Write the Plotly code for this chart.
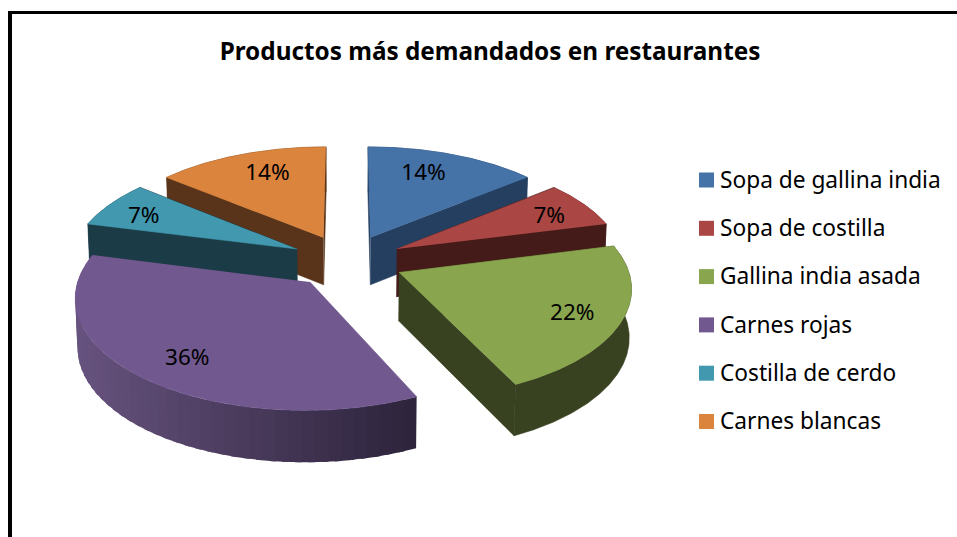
import numpy as np
import plotly.graph_objects as go

categories = ["Sopa de gallina india", "Sopa de costilla", "Gallina india asada",
              "Carnes rojas", "Costilla de cerdo", "Carnes blancas"]
values = [14, 7, 22, 36, 7, 14]
top_colors = ["#4572A7", "#AA4643", "#89A54E", "#71588F", "#4198AF", "#DB843D"]
side_colors = ["#253F60", "#451B19", "#384120", "#3E3150", "#1B3B46", "#59341A"]
title_text = "Productos más demandados en restaurantes"

# projection of the tilted pie
CX, CY = 347, 261
A, B, KX, KY = 227, 107, 0.12, 0.1224
EXPLODE, DEPTH, LABEL_R = 0.25, 48, 1.03
FONT = "Noto Sans"
LABEL_NUDGE = [(-13, 3), (5, 4), (2, 4), (5, 4), (-6, 4), (10, 3)]


def project(u, v, bottom=False):
    x = CX + A * u / (1 + KX * v)
    d = 1 + KY * v
    y = CY - B * v / d
    if bottom:
        y = y + DEPTH / np.sqrt(d)
        x = CX + (x - CX) * 0.992
    return x, y


def poly(fig, x, y, color, edge=0.6):
    fig.add_trace(go.Scatter(x=list(x), y=list(y), mode="lines", fill="toself",
                             fillcolor=color, line=dict(color=color, width=edge),
                             hoverinfo="skip", showlegend=False))


def mix(c1, c2, t):
    a = [int(c1[i:i + 2], 16) for i in (1, 3, 5)]
    b = [int(c2[i:i + 2], 16) for i in (1, 3, 5)]
    return "#%02x%02x%02x" % tuple(round(p + (q - p) * t) for p, q in zip(a, b))


fig = go.Figure()
total = sum(values)
edges = np.cumsum([0] + values) / total * 2 * np.pi
order = [0, 1, 2, 5, 4, 3]
mids = {}

for i in order:
    t0, t1 = edges[i], edges[i + 1]
    mid = (t0 + t1) / 2
    mids[i] = mid
    ou, ov = EXPLODE * np.sin(mid), EXPLODE * np.cos(mid)
    th = np.linspace(t0, t1, 181)
    ru, rv = ou + np.sin(th), ov + np.cos(th)
    tx, ty = project(ru, rv)
    bx, by = project(ru, rv, True)
    ax, ay = project(ou, ov)
    axb, ayb = project(ou, ov, True)
    if i == 3:
        # outer wall, shaded from the dark right end to the lighter left end
        step = 4
        xmin, xmax = tx.min(), tx.max()
        for j in range(0, len(th) - 1, step):
            s = min(j + step + 3, len(th))
            f = np.clip((tx[j] - xmin) / (xmax - xmin), 0, 1)
            col = mix("#67537F", "#2E243C", f)
            poly(fig, np.r_[tx[j:s], bx[j:s][::-1]], np.r_[ty[j:s], by[j:s][::-1]], col, 0)
    else:
        poly(fig, np.r_[tx, bx[::-1]], np.r_[ty, by[::-1]], side_colors[i])
        for k in (0, -1):
            poly(fig, [ax, tx[k], bx[k], axb], [ay, ty[k], by[k], ayb], side_colors[i])
    poly(fig, np.r_[ax, tx], np.r_[ay, ty], top_colors[i])

# percentage labels
lx, ly, lt = [], [], []
for i in range(len(values)):
    x, y = project(LABEL_R * np.sin(mids[i]), LABEL_R * np.cos(mids[i]))
    lx.append(x + LABEL_NUDGE[i][0])
    ly.append(y + LABEL_NUDGE[i][1])
    lt.append(f"{round(values[i] / total * 100)}%")
fig.add_trace(go.Scatter(x=lx, y=ly, text=lt, mode="text", textposition="middle center",
                         textfont=dict(family=FONT, size=22.5, color="#000000"),
                         hoverinfo="skip", showlegend=False))

# legend column
leg_y = [180 + 48.3 * n for n in range(len(categories))]
fig.add_trace(go.Scatter(x=[706.5] * len(categories), y=leg_y, mode="markers",
                         marker=dict(symbol="square", size=15, color=top_colors),
                         hoverinfo="skip", showlegend=False))
fig.add_trace(go.Scatter(x=[720] * len(categories), y=[v + 2 for v in leg_y], text=categories,
                         mode="text", textposition="middle right",
                         textfont=dict(family=FONT, size=22.7, color="#000000"),
                         hoverinfo="skip", showlegend=False))
fig.add_trace(go.Scatter(x=[490], y=[54], text=[f"<b>{title_text}</b>"], mode="text",
                         textposition="middle center",
                         textfont=dict(family=FONT, size=24.3, color="#000000"),
                         hoverinfo="skip", showlegend=False))

fig.update_layout(
    width=957, height=537, margin=dict(l=0, r=0, t=0, b=0),
    paper_bgcolor="white", plot_bgcolor="white", showlegend=False,
    xaxis=dict(range=[0, 957], visible=False, fixedrange=True),
    yaxis=dict(range=[537, 0], visible=False, fixedrange=True),
    shapes=[
        dict(type="line", x0=10, x1=957, y0=12.5, y1=12.5, line=dict(color="black", width=3)),
        dict(type="line", x0=10, x1=10, y0=11, y1=537, line=dict(color="black", width=4)),
    ],
)
fig.write_html("out.html", default_width="957px", default_height="537px",
               config={"displayModeBar": False},
               post_script="document.body.style.margin='0';document.documentElement.style.overflow='hidden';")
